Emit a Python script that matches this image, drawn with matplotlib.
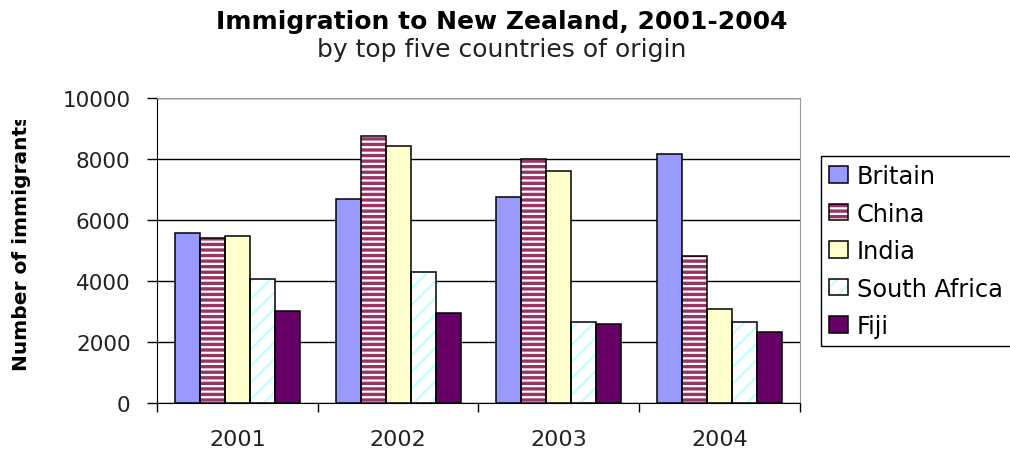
import matplotlib.pyplot as plt
import numpy as np
from matplotlib.transforms import Bbox

# immigration figures read per year
years = ['2001', '2002', '2003', '2004']
countries = ['Britain', 'China', 'India', 'South Africa', 'Fiji']
britain = [5560, 6690, 6740, 8160]
china = [5400, 8750, 8000, 4830]
india = [5470, 8440, 7590, 3070]
south_africa = [4080, 4300, 2650, 2650]
fiji = [3020, 2950, 2590, 2330]

plt.rcParams['font.family'] = 'DejaVu Sans'
plt.rcParams['hatch.linewidth'] = 1.6

series = [britain, china, india, south_africa, fiji]
# face, hatch colour, hatch pattern
styles = [
    ('#9999FF', None, None),
    ('#993366', 'white', '---'),
    ('#FFFFCC', None, None),
    ('white', '#BFFFFF', '//'),
    ('#660066', None, None),
]

fig = plt.figure(figsize=(10.1, 4.52), dpi=100)
ax = fig.add_axes([0.1554, 0.1062, 0.6366, 0.6748])

x = np.arange(len(years))
w = 0.1555
handles = []
for i, (vals, (fc, hc, hatch)) in enumerate(zip(series, styles)):
    pos = x + (i - 2) * w
    if hatch:
        fill = ax.bar(pos, vals, w, color=fc, edgecolor=hc, linewidth=0, hatch=hatch, zorder=2)
    else:
        fill = ax.bar(pos, vals, w, color=fc, linewidth=0, zorder=2)
    edge = ax.bar(pos, vals, w, fill=False, edgecolor='black', linewidth=1.1, zorder=3)
    handles.append((fill[0], edge[0]))

ax.set_xlim(-0.5, 3.5)
ax.set_ylim(0, 10000)
ax.set_yticks(range(0, 10001, 2000))
ax.yaxis.grid(True, color='black', linewidth=1)
ax.set_axisbelow(True)

# category borders get ticks, labels sit in the middle
ax.set_xticks(np.arange(-0.5, 4, 1))
ax.set_xticklabels([])
ax.set_xticks(x, minor=True)
ax.set_xticklabels(years, minor=True)
ax.tick_params(axis='x', which='major', length=6.5, width=1, direction='out')
ax.tick_params(axis='x', which='minor', length=0, pad=19, labelsize=16, labelcolor='#222222')
ax.tick_params(axis='y', length=7.5, width=1, direction='out', pad=11.5, labelsize=15.5,
               labelcolor='#222222')

ax.spines['left'].set_color('black')
ax.spines['bottom'].set_color('black')
ax.spines['top'].set_color('#999999')
ax.spines['right'].set_color('#999999')

ylab = fig.text(0.021, 1 - 242.5 / 452, 'Number of immigrants', rotation=90, fontsize=14.5,
                fontweight='bold', ha='center', va='center')
ylab.set_clip_box(Bbox.from_extents(0, 0, 1010, 452 - 121))
ylab.set_clip_on(True)

fig.text(0.497, 0.935, 'Immigration to New Zealand, 2001-2004', ha='center', va='baseline',
         fontsize=18, fontweight='bold')
fig.text(0.497, 0.874, 'by top five countries of origin', ha='center', va='baseline',
         fontsize=18, color='#222222')

leg = ax.legend(handles, countries, loc='upper left',
                bbox_to_anchor=(821 / 1010, 1 - 157 / 452), bbox_transform=fig.transFigure,
                borderaxespad=0, fontsize=17.3, handlelength=0.8, handleheight=0.68,
                handletextpad=0.34, labelspacing=0.56, borderpad=0.34,
                fancybox=False, framealpha=1, edgecolor='black')
leg.get_frame().set_linewidth(1)

fig.savefig('out.png', dpi=100)
